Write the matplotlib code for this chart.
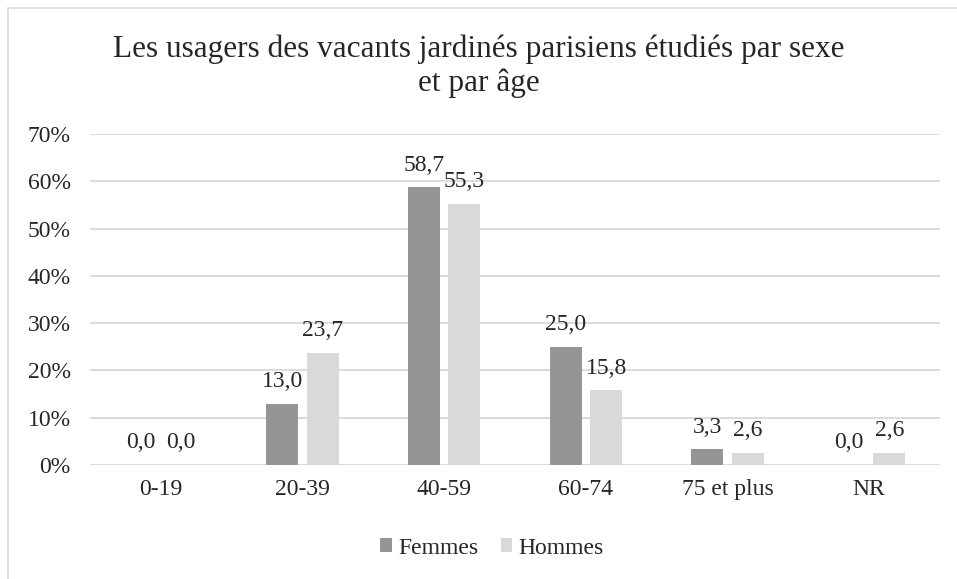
import numpy as np
import matplotlib
matplotlib.use("Agg")
import matplotlib.pyplot as plt
from matplotlib.patches import Rectangle

# données
categories = ["0-19", "20-39", "40-59", "60-74", "75 et plus", "NR"]
femmes = [0.0, 13.0, 58.7, 25.0, 3.3, 0.0]
hommes = [0.0, 23.7, 55.3, 15.8, 2.6, 2.6]
yticks = [0, 10, 20, 30, 40, 50, 60, 70]

plt.rcParams['font.family'] = ['Liberation Serif', 'DejaVu Serif']

fig = plt.figure(figsize=(9.57, 5.79), dpi=100)
ax = fig.add_axes([90 / 957, 1 - 465 / 579, 850 / 957, 331 / 579])

# cadre du graphique (bordure grise)
fig.patches.append(Rectangle((8 / 957, -0.5), 2, 1.5 - 8 / 579, transform=fig.transFigure,
                             fill=False, edgecolor="#d9d9d9", linewidth=1.2))

x = np.arange(len(categories))
w = 0.225
off = 0.143
c_f = "#959595"
c_h = "#d9d9d9"
fs = 17

ax.bar(x - off, femmes, w, color=c_f, label="Femmes", zorder=3)
ax.bar(x + off, hommes, w, color=c_h, label="Hommes", zorder=3)

for i in range(len(categories)):
    ax.text(x[i] - off, femmes[i] + 4.7, f"{femmes[i]:.1f}".replace(".", ","),
            ha="center", va="center", fontsize=fs, color="#262626")
    ax.text(x[i] + off, hommes[i] + 4.7, f"{hommes[i]:.1f}".replace(".", ","),
            ha="center", va="center", fontsize=fs, color="#262626")

ax.set_xlim(-0.5, len(categories) - 0.5)
ax.set_ylim(0, 70)
ax.set_yticks(yticks)
ax.set_yticklabels([f"{v}%" for v in yticks])
ax.set_xticks(x)
ax.set_xticklabels(categories)
ax.tick_params(axis="both", length=0, labelsize=fs, colors="#262626")
ax.tick_params(axis="y", pad=14)
ax.tick_params(axis="x", pad=10)
ax.yaxis.grid(True, color="#d9d9d9", linewidth=1.3, zorder=0)
for s in ax.spines.values():
    s.set_visible(False)

fig.text(0.5, 1 - 66 / 579, "Les usagers des vacants jardinés parisiens étudiés par sexe\net par âge",
         ha="center", va="center", fontsize=22.5, color="#262626", linespacing=1.2)

leg = fig.legend(loc="center", bbox_to_anchor=(0.514, 1 - 548 / 579), ncol=2, frameon=False,
                 fontsize=fs, handlelength=0.5, handleheight=0.5, handletextpad=0.25,
                 columnspacing=0.95)
for t in leg.get_texts():
    t.set_color("#262626")

fig.savefig("out.png", dpi=100)
